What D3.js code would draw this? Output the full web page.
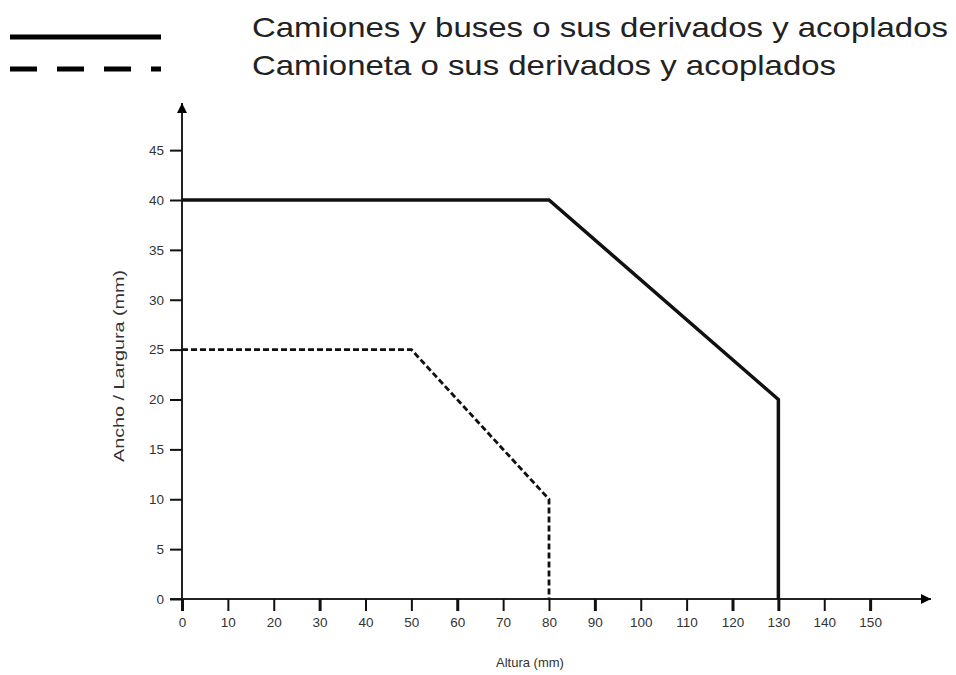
<!DOCTYPE html>
<html>
<head>
<meta charset="utf-8">
<script src="https://cdn.jsdelivr.net/npm/d3@7"></script>
<style>
  body { margin: 0; background: #fff; }
  text { font-family: "Liberation Sans", Arial, sans-serif; }
</style>
</head>
<body>
<svg id="drawing_region"></svg>
<script>
// series: [altura, ancho]
const camiones = [[0, 40], [80, 40], [130, 20], [130, 0]];
const camioneta = [[0, 25], [50, 25], [80, 10], [80, 0]];
const xTicks = [0, 10, 20, 30, 40, 50, 60, 70, 80, 90, 100, 110, 120, 130, 140, 150];
const yTicks = [0, 5, 10, 15, 20, 25, 30, 35, 40, 45];
const legendLabels = ["Camiones y buses o sus derivados y acoplados", "Camioneta o sus derivados y acoplados"];
const xTitle = "Altura (mm)";
const yTitle = "Ancho / Largura (mm)";

const width = 956, height = 675;
const margin = {left: 182};

const svg = d3.select('#drawing_region')
    .attr('width', width)
    .attr('height', height);

const xscale = d3.scaleLinear()
    .domain([0, 150])
    .range([margin.left, margin.left + 150 * 4.5875]);

const yscale = d3.scaleLinear()
    .domain([0, 45])
    .range([599, 599 - 45 * 9.975]);

// arrow heads for the axes
svg.append('defs').append('marker')
    .attr('id', 'arrow')
    .attr('viewBox', '0 0 10 10')
    .attr('refX', 10).attr('refY', 5)
    .attr('markerWidth', 27).attr('markerHeight', 10)
    .attr('markerUnits', 'userSpaceOnUse')
    .attr('orient', 'auto')
    .append('path')
    .attr('d', 'M0,0 L10,5 L0,10 Z')
    .attr('fill', '#000');

svg.append('line')
    .attr('x1', xscale(0) - 12).attr('y1', yscale(0))
    .attr('x2', 931).attr('y2', yscale(0))
    .attr('stroke', '#222').attr('stroke-width', 2)
    .attr('marker-end', 'url(#arrow)');

svg.append('line')
    .attr('x1', xscale(0)).attr('y1', yscale(0) + 12)
    .attr('x2', xscale(0)).attr('y2', 103)
    .attr('stroke', '#222').attr('stroke-width', 2)
    .attr('marker-end', 'url(#arrow)');

const xaxis = d3.axisBottom(xscale)
    .tickValues(xTicks)
    .tickSize(12)
    .tickSizeOuter(0)
    .tickPadding(6);

const yaxis = d3.axisLeft(yscale)
    .tickValues(yTicks)
    .tickSize(12)
    .tickSizeOuter(0)
    .tickPadding(6);

const xg = svg.append('g')
    .attr('transform', `translate(0, ${yscale(0)})`)
    .call(xaxis);
xg.select('.domain').remove();
xg.selectAll('.tick line').attr('stroke', '#111').attr('stroke-width', d => d % 30 == 0 || d == 130 ? 3 : 2);
xg.selectAll('.tick text').attr('font-size', 13.5).attr('fill', '#333')
    .attr('font-family', '"Liberation Sans", Arial, sans-serif');

const yg = svg.append('g')
    .attr('transform', `translate(${xscale(0)}, 0)`)
    .call(yaxis);
yg.select('.domain').remove();
yg.selectAll('.tick line').attr('stroke', '#111').attr('stroke-width', 2);
yg.selectAll('.tick text').attr('font-size', 13.5).attr('fill', '#333')
    .attr('font-family', '"Liberation Sans", Arial, sans-serif');

// axis titles
svg.append('text')
    .attr('x', 530).attr('y', 667)
    .attr('text-anchor', 'middle')
    .attr('font-size', 13).attr('fill', '#333')
    .text(xTitle);

svg.append('text')
    .attr('transform', `translate(124, 366) rotate(-90)`)
    .attr('text-anchor', 'middle')
    .attr('font-size', 15).attr('fill', '#333')
    .attr('font-family', '"Liberation Sans Narrow", "Liberation Sans", Arial, sans-serif')
    .attr('textLength', 192).attr('lengthAdjust', 'spacingAndGlyphs')
    .text(yTitle);

// data lines
const line = d3.line()
    .x(d => xscale(d[0]))
    .y(d => yscale(d[1]));

svg.append('path')
    .attr('d', line(camiones))
    .attr('fill', 'none')
    .attr('stroke', '#111')
    .attr('stroke-width', 3.5);

svg.append('path')
    .attr('d', line(camioneta))
    .attr('fill', 'none')
    .attr('stroke', '#111')
    .attr('stroke-width', 2.8)
    .attr('stroke-dasharray', '6,3');

// legend
const legend = svg.append('g');
legend.append('line')
    .attr('x1', 10).attr('x2', 161)
    .attr('y1', 37).attr('y2', 37)
    .attr('stroke', '#000').attr('stroke-width', 5);
legend.append('line')
    .attr('x1', 10).attr('x2', 161)
    .attr('y1', 69).attr('y2', 69)
    .attr('stroke', '#000').attr('stroke-width', 5)
    .attr('stroke-dasharray', '27,20');

const legendLen = [696, 584];
legend.selectAll('text.lbl')
    .data(legendLabels)
    .join('text')
    .attr('class', 'lbl')
    .attr('x', 252)
    .attr('y', (d, i) => 37 + i * 38)
    .attr('font-size', 28)
    .attr('fill', '#222')
    .attr('textLength', (d, i) => legendLen[i])
    .attr('lengthAdjust', 'spacingAndGlyphs')
    .text(d => d);
</script>
</body>
</html>
